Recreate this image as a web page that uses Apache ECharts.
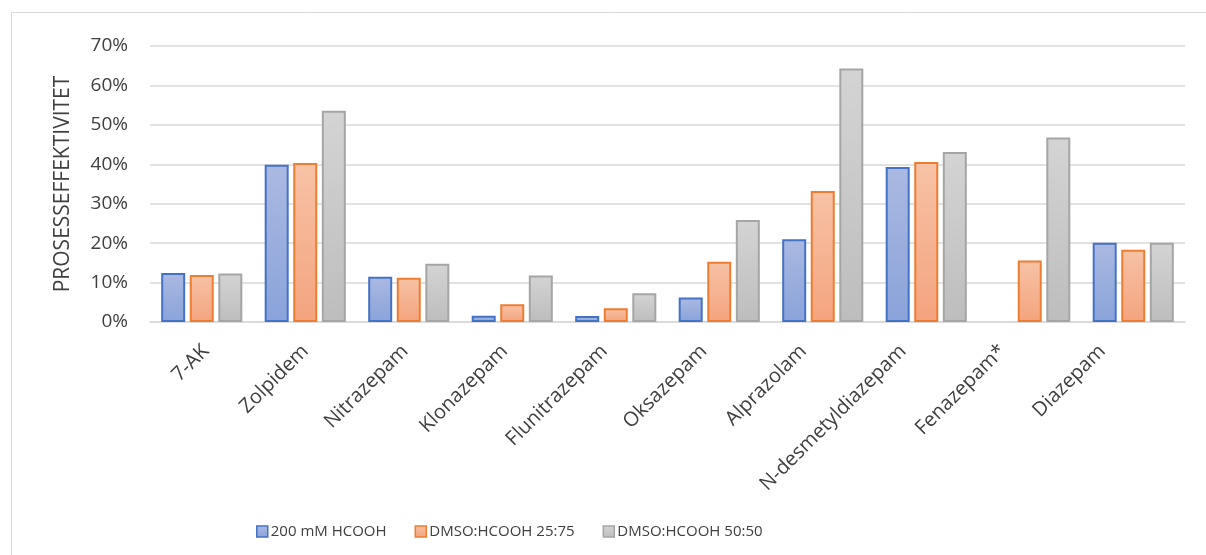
<!DOCTYPE html>
<html>
<head>
<meta charset="utf-8">
<script src="https://cdn.jsdelivr.net/npm/echarts@6/dist/echarts.min.js"></script>
<style>
  html, body { margin: 0; padding: 0; background: #ffffff; }
  #chart { width: 1206px; height: 555px; }
</style>
</head>
<body>
<div id="chart"></div>
<script>
// Process efficiency per analyte for three extraction solvents
const categories = ['7-AK', 'Zolpidem', 'Nitrazepam', 'Klonazepam', 'Flunitrazepam',
  'Oksazepam', 'Alprazolam', 'N-desmetyldiazepam', 'Fenazepam*', 'Diazepam'];
const seriesNames = ['200 mM HCOOH', 'DMSO:HCOOH 25:75', 'DMSO:HCOOH 50:50'];
const hcooh200 = [0.124, 0.399, 0.115, 0.016, 0.015, 0.062, 0.210, 0.393, null, 0.201];
const dmso2575 = [0.119, 0.403, 0.112, 0.045, 0.035, 0.153, 0.332, 0.406, 0.156, 0.183];
const dmso5050 = [0.123, 0.536, 0.148, 0.118, 0.073, 0.259, 0.643, 0.431, 0.468, 0.201];
const yTicks = [0, 0.1, 0.2, 0.3, 0.4, 0.5, 0.6, 0.7];

const FONT = '"Open Sans", sans-serif';

function grad(top, bottom) {
  return new echarts.graphic.LinearGradient(0, 0, 0, 1, [
    { offset: 0, color: top },
    { offset: 1, color: bottom }
  ]);
}

const styles = [
  { fill: grad('#aab9e1', '#8aa3da'), border: '#4472c4' },
  { fill: grad('#f7c2a6', '#f4a47e'), border: '#ed7d31' },
  { fill: grad('#d4d4d4', '#bdbdbd'), border: '#a5a5a5' }
];

const values = [hcooh200, dmso2575, dmso5050];

const chart = echarts.init(document.getElementById('chart'), null, { renderer: 'canvas' });

chart.setOption({
  animation: false,
  backgroundColor: '#ffffff',
  textStyle: { fontFamily: FONT },
  graphic: [{
    type: 'rect',
    shape: { x: 11.5, y: 12.5, width: 1220, height: 580 },
    style: { fill: 'none', stroke: '#d9d9d9', lineWidth: 1 },
    silent: true,
    z: -1
  }],
  grid: [
    // bars and gridlines
    { left: 150, right: 21, top: 46, bottom: 233, containLabel: false },
    // slightly tighter band that carries the rotated category labels
    { left: 156, right: 54, top: 46, bottom: 233, containLabel: false }
  ],
  legend: {
    bottom: 11,
    left: 251,
    itemWidth: 11,
    itemHeight: 11,
    itemGap: 28,
    textStyle: { fontFamily: FONT, fontSize: 15, color: '#404040', padding: [0, 0, 0, -2] },
    data: seriesNames.map((n, i) => ({
      name: n,
      icon: 'rect',
      itemStyle: { color: styles[i].fill, borderColor: styles[i].border, borderWidth: 1.5 }
    }))
  },
  xAxis: [
    {
      type: 'category',
      gridIndex: 0,
      data: categories,
      axisTick: { show: false },
      axisLine: { lineStyle: { color: '#d9d9d9', width: 1.5 } },
      axisLabel: { show: false }
    },
    {
      type: 'category',
      gridIndex: 1,
      data: categories,
      axisTick: { show: false },
      axisLine: { show: false },
      axisLabel: {
        rotate: 45,
        interval: 0,
        margin: 26,
        fontSize: 20,
        color: '#404040',
        fontFamily: FONT
      }
    }
  ],
  yAxis: [
    {
      type: 'value',
      gridIndex: 0,
      min: 0,
      max: 0.7,
      interval: 0.1,
      name: 'PROSESSEFFEKTIVITET',
      nameLocation: 'middle',
      nameGap: 76,
      nameTextStyle: { fontSize: 21, color: '#404040', fontFamily: FONT },
      axisLine: { show: false },
      axisTick: { show: false },
      splitLine: { lineStyle: { color: '#d9d9d9', width: 1.5 } },
      axisLabel: {
        margin: 22,
        fontSize: 19,
        color: '#404040',
        fontFamily: FONT,
        padding: [4, 0, 0, 0],
        formatter: v => {
          const t = yTicks.find(k => Math.abs(k - v) < 1e-9);
          return t === undefined ? '' : Math.round(t * 100) + '%';
        }
      }
    },
    {
      type: 'value',
      gridIndex: 1,
      min: 0,
      max: 0.7,
      interval: 0.1,
      show: false,
      splitLine: { show: false }
    }
  ],
  series: seriesNames.map((n, i) => ({
    name: n,
    type: 'bar',
    xAxisIndex: 0,
    yAxisIndex: 0,
    data: values[i],
    barWidth: 24,
    barGap: '19%',
    itemStyle: { color: styles[i].fill, borderColor: styles[i].border, borderWidth: 2 }
  }))
});
</script>
</body>
</html>
